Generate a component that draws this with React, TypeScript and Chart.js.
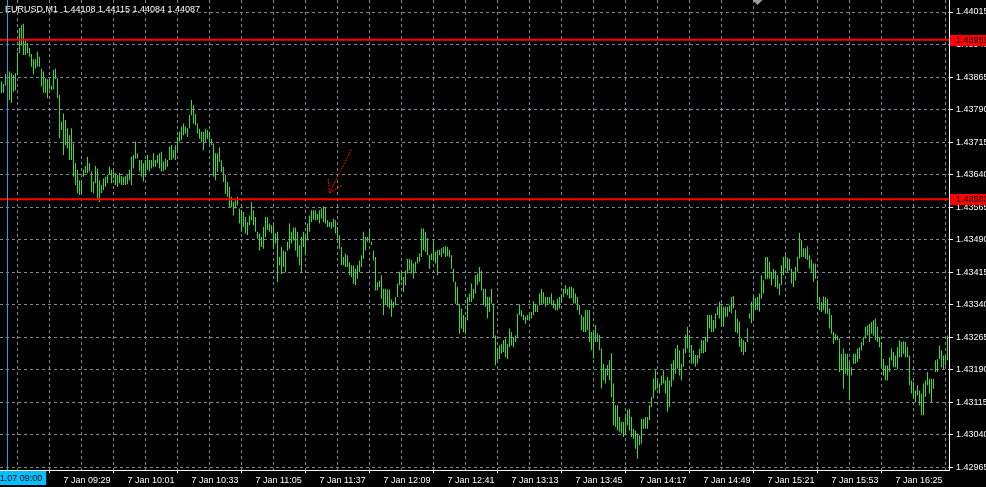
import React, { useEffect, useRef } from 'react';
import { Chart, registerables } from 'chart.js';

Chart.register(...registerables);

// ---- data ----
const symbolTitle = 'EURUSD,M1  1.44108 1.44115 1.44084 1.44087';

const barHighs = [
  1.43855,1.43849,1.43872,1.43870,1.43878,1.43875,1.43870,1.43874,1.43922,1.43978,
  1.43985,1.43988,1.43949,1.43943,1.43932,1.43918,1.43906,1.43906,1.43924,1.43912,
  1.43885,1.43878,1.43862,1.43860,1.43862,1.43845,1.43881,1.43885,1.43862,1.43824,
  1.43762,1.43781,1.43766,1.43747,1.43731,1.43747,1.43712,1.43666,1.43651,1.43627,
  1.43627,1.43651,1.43660,1.43681,1.43666,1.43647,1.43624,1.43660,1.43654,1.43627,
  1.43616,1.43631,1.43635,1.43639,1.43658,1.43651,1.43647,1.43643,1.43639,1.43644,
  1.43637,1.43635,1.43637,1.43639,1.43652,1.43681,1.43685,1.43716,1.43689,1.43674,
  1.43674,1.43666,1.43674,1.43685,1.43674,1.43674,1.43689,1.43674,1.43685,1.43689,
  1.43693,1.43670,1.43677,1.43674,1.43704,1.43708,1.43697,1.43708,1.43727,1.43739,
  1.43751,1.43758,1.43751,1.43747,1.43778,
  1.43812,1.43800,1.43780,1.43758,1.43746,1.43739,1.43739,1.43746,1.43743,1.43739,
  1.43723,1.43712,1.43689,1.43689,1.43703,1.43673,1.43658,1.43639,1.43623,1.43612,
  1.43589,1.43577,1.43581,1.43589,1.43562,1.43558,1.43554,1.43542,1.43531,1.43546,
  1.43577,1.43558,1.43542,1.43508,1.43504,1.43496,1.43519,1.43542,1.43542,1.43527,
  1.43523,1.43523,1.43504,1.43508,1.43450,1.43473,1.43465,1.43462,1.43485,1.43527,
  1.43508,1.43518,1.43518,1.43508,1.43477,1.43496,1.43508,1.43504,1.43527,1.43546,
  1.43558,1.43558,1.43558,1.43550,1.43558,1.43562,1.43567,1.43565,1.43535,1.43531,
  1.43531,1.43539,1.43535,1.43519,1.43500,1.43473,1.43450,1.43458,1.43454,1.43438,
  1.43431,1.43431,1.43423,1.43431,1.43442,1.43454,1.43508,1.43496,1.43496,1.43512,
  1.43485,1.43465,1.43450,1.43392,1.43396,
  1.43408,1.43377,1.43377,1.43375,1.43375,1.43352,1.43346,1.43358,1.43389,1.43416,
  1.43416,1.43404,1.43419,1.43446,1.43446,1.43443,1.43435,1.43439,1.43450,1.43458,
  1.43516,1.43516,1.43508,1.43493,1.43454,1.43458,1.43485,1.43462,1.43466,1.43467,
  1.43470,1.43473,1.43475,1.43473,1.43466,1.43454,1.43423,1.43393,1.43381,1.43342,
  1.43331,1.43316,1.43312,1.43358,1.43366,1.43389,1.43377,1.43408,1.43412,1.43427,
  1.43419,1.43377,1.43377,1.43358,1.43358,1.43377,1.43342,1.43269,1.43239,1.43246,
  1.43250,1.43258,1.43262,1.43250,1.43285,1.43277,1.43265,1.43269,1.43319,1.43341,
  1.43327,1.43316,1.43313,1.43316,1.43319,1.43323,1.43348,1.43342,1.43339,1.43366,
  1.43377,1.43369,1.43358,1.43358,1.43358,1.43366,1.43350,1.43342,1.43354,1.43358,
  1.43362,1.43377,1.43385,1.43377,1.43381,
  1.43382,1.43378,1.43366,1.43358,1.43339,1.43316,1.43312,1.43328,1.43328,1.43328,
  1.43277,1.43277,1.43293,1.43274,1.43270,1.43239,1.43204,1.43193,1.43201,1.43212,
  1.43228,1.43158,1.43108,1.43108,1.43081,1.43070,1.43070,1.43081,1.43097,1.43100,
  1.43081,1.43054,1.43050,1.43043,1.43039,1.43077,1.43077,1.43081,1.43081,1.43108,
  1.43127,1.43170,1.43189,1.43166,1.43158,1.43177,1.43189,1.43166,1.43174,1.43166,
  1.43204,1.43212,1.43239,1.43247,1.43235,1.43204,1.43239,1.43270,1.43289,1.43270,
  1.43247,1.43235,1.43224,1.43224,1.43239,1.43258,1.43258,1.43266,1.43316,1.43316,
  1.43316,1.43305,1.43320,1.43335,1.43347,1.43343,1.43335,1.43335,1.43335,1.43339,
  1.43358,1.43360,1.43328,1.43308,1.43301,1.43262,1.43258,1.43254,1.43285,1.43320,
  1.43347,1.43358,1.43355,1.43358,1.43366,
  1.43408,1.43396,1.43450,1.43450,1.43439,1.43416,1.43423,1.43419,1.43408,1.43389,
  1.43431,1.43450,1.43454,1.43449,1.43446,1.43423,1.43416,1.43427,1.43450,1.43506,
  1.43489,1.43470,1.43470,1.43475,1.43454,1.43444,1.43435,1.43435,1.43396,1.43358,
  1.43346,1.43359,1.43358,1.43354,1.43331,1.43316,1.43277,1.43273,1.43269,1.43262,
  1.43227,1.43239,1.43227,1.43227,1.43208,1.43196,1.43227,1.43227,1.43239,1.43242,
  1.43254,1.43265,1.43289,1.43292,1.43296,1.43300,1.43304,1.43308,1.43289,1.43265,
  1.43254,1.43215,1.43200,1.43200,1.43219,1.43239,1.43231,1.43223,1.43242,1.43258,
  1.43254,1.43256,1.43254,1.43242,1.43223,1.43165,1.43162,1.43142,1.43154,1.43142,
  1.43135,1.43158,1.43165,1.43185,1.43169,1.43169,1.43169,1.43212,1.43215,1.43246,
  1.43235,1.43223,1.43223,1.43269,
];

const barLows = [
  1.43828,1.43829,1.43845,1.43847,1.43812,1.43806,1.43831,1.43834,1.43870,1.43920,
  1.43937,1.43916,1.43916,1.43920,1.43912,1.43889,1.43871,1.43885,1.43889,1.43889,
  1.43843,1.43829,1.43829,1.43816,1.43837,1.43835,1.43837,1.43860,1.43816,1.43724,
  1.43743,1.43685,1.43708,1.43701,1.43674,1.43674,1.43635,1.43616,1.43597,1.43593,
  1.43597,1.43635,1.43644,1.43643,1.43647,1.43600,1.43597,1.43620,1.43581,1.43577,
  1.43597,1.43604,1.43612,1.43620,1.43639,1.43620,1.43631,1.43616,1.43612,1.43620,
  1.43616,1.43616,1.43616,1.43618,1.43627,1.43616,1.43654,1.43677,1.43677,1.43647,
  1.43635,1.43624,1.43635,1.43651,1.43647,1.43654,1.43658,1.43658,1.43666,1.43654,
  1.43647,1.43647,1.43651,1.43658,1.43674,1.43674,1.43677,1.43674,1.43697,1.43716,
  1.43720,1.43731,1.43735,1.43727,1.43747,
  1.43777,1.43758,1.43754,1.43735,1.43723,1.43716,1.43696,1.43716,1.43723,1.43712,
  1.43708,1.43635,1.43627,1.43646,1.43669,1.43646,1.43623,1.43596,1.43589,1.43565,
  1.43565,1.43546,1.43562,1.43569,1.43527,1.43508,1.43519,1.43504,1.43500,1.43523,
  1.43535,1.43523,1.43508,1.43492,1.43465,1.43473,1.43469,1.43496,1.43512,1.43508,
  1.43504,1.43469,1.43481,1.43392,1.43431,1.43411,1.43427,1.43415,1.43465,1.43469,
  1.43481,1.43488,1.43465,1.43450,1.43431,1.43415,1.43473,1.43454,1.43488,1.43508,
  1.43531,1.43536,1.43535,1.43535,1.43527,1.43539,1.43531,1.43527,1.43519,1.43519,
  1.43515,1.43519,1.43504,1.43492,1.43469,1.43431,1.43431,1.43427,1.43427,1.43408,
  1.43404,1.43388,1.43385,1.43400,1.43415,1.43427,1.43446,1.43465,1.43485,1.43488,
  1.43477,1.43442,1.43373,1.43373,1.43381,
  1.43354,1.43316,1.43342,1.43335,1.43331,1.43312,1.43333,1.43339,1.43358,1.43385,
  1.43396,1.43369,1.43385,1.43412,1.43419,1.43412,1.43400,1.43416,1.43435,1.43439,
  1.43450,1.43466,1.43462,1.43454,1.43423,1.43443,1.43443,1.43435,1.43408,1.43454,
  1.43450,1.43458,1.43450,1.43452,1.43450,1.43423,1.43393,1.43342,1.43339,1.43273,
  1.43285,1.43277,1.43273,1.43304,1.43346,1.43346,1.43354,1.43366,1.43385,1.43393,
  1.43373,1.43339,1.43335,1.43308,1.43323,1.43342,1.43265,1.43200,1.43212,1.43215,
  1.43227,1.43231,1.43219,1.43215,1.43242,1.43246,1.43242,1.43254,1.43265,1.43316,
  1.43312,1.43304,1.43296,1.43304,1.43304,1.43308,1.43316,1.43323,1.43323,1.43339,
  1.43342,1.43342,1.43335,1.43342,1.43342,1.43339,1.43331,1.43327,1.43327,1.43331,
  1.43346,1.43358,1.43366,1.43362,1.43354,
  1.43355,1.43343,1.43343,1.43328,1.43316,1.43281,1.43277,1.43277,1.43281,1.43254,
  1.43235,1.43216,1.43254,1.43254,1.43235,1.43147,1.43166,1.43158,1.43177,1.43166,
  1.43127,1.43062,1.43058,1.43050,1.43047,1.43043,1.43035,1.43039,1.43062,1.43050,
  1.43035,1.43031,1.43008,1.42985,1.43016,1.43020,1.43054,1.43054,1.43054,1.43074,
  1.43104,1.43124,1.43143,1.43147,1.43135,1.43154,1.43158,1.43135,1.43093,1.43104,
  1.43151,1.43166,1.43181,1.43193,1.43177,1.43166,1.43197,1.43228,1.43239,1.43228,
  1.43204,1.43204,1.43197,1.43204,1.43216,1.43228,1.43228,1.43231,1.43254,1.43285,
  1.43277,1.43277,1.43285,1.43316,1.43308,1.43289,1.43289,1.43312,1.43312,1.43324,
  1.43320,1.43331,1.43277,1.43274,1.43243,1.43231,1.43224,1.43231,1.43254,1.43308,
  1.43297,1.43308,1.43328,1.43328,1.43324,
  1.43354,1.43366,1.43400,1.43400,1.43400,1.43385,1.43400,1.43381,1.43377,1.43362,
  1.43385,1.43408,1.43423,1.43416,1.43419,1.43389,1.43381,1.43396,1.43416,1.43446,
  1.43450,1.43450,1.43446,1.43443,1.43423,1.43416,1.43393,1.43400,1.43346,1.43327,
  1.43323,1.43327,1.43319,1.43319,1.43285,1.43273,1.43250,1.43258,1.43258,1.43185,
  1.43189,1.43146,1.43181,1.43177,1.43119,1.43177,1.43204,1.43204,1.43208,1.43215,
  1.43235,1.43246,1.43262,1.43269,1.43254,1.43273,1.43269,1.43258,1.43254,1.43242,
  1.43196,1.43177,1.43165,1.43165,1.43185,1.43212,1.43196,1.43196,1.43192,1.43219,
  1.43219,1.43227,1.43219,1.43219,1.43154,1.43135,1.43123,1.43115,1.43131,1.43108,
  1.43085,1.43085,1.43127,1.43154,1.43135,1.43115,1.43146,1.43185,1.43185,1.43215,
  1.43196,1.43192,1.43200,1.43212,
];

const priceTicks = [
  1.42965, 1.43040, 1.43115, 1.43190, 1.43265, 1.43340, 1.43415, 1.43490,
  1.43565, 1.43640, 1.43715, 1.43790, 1.43865, 1.43940, 1.44015,
];

const timeLabels = [
  '7 Jan 09:29', '7 Jan 10:01', '7 Jan 10:33', '7 Jan 11:05', '7 Jan 11:37',
  '7 Jan 12:09', '7 Jan 12:41', '7 Jan 13:13', '7 Jan 13:45', '7 Jan 14:17',
  '7 Jan 14:49', '7 Jan 15:21', '7 Jan 15:53', '7 Jan 16:25',
];
const barsPerLabel = 32;
const barsPerGrid = 16;

const levelLines = [1.43951, 1.43583];
const cursorBar = 3;
const cursorLabel = '2011.01.07 09:00';
const arrowFrom = { bar: 175, price: 1.43699 };
const arrowTo = { bar: 164, price: 1.43598 };
const shiftMarkerBar = 378;

const priceMin = 1.429588;
const priceMax = 1.440427;
const barMin = -0.75;
const barMax = 473.75;

// ---- style ----
const FONT = '"Liberation Sans", Arial, sans-serif';
const BAR_COLOR = '#33dd33';
const GRID_COLOR = '#7d8796';

export default function App() {
  const ref = useRef<HTMLCanvasElement | null>(null);

  useEffect(() => {
    const canvas = ref.current;
    if (!canvas) return;

    const bars = barHighs.map((h, i) => ({ x: i, y: [barLows[i], h] }));
    const gridBars: number[] = [];
    for (let v = 0; v <= barMax; v += barsPerGrid) gridBars.push(v);

    const decor = {
      id: 'mtDecor',
      afterDraw(chart: any) {
        const { ctx, chartArea } = chart;
        const xs = chart.scales.x;
        const ys = chart.scales.y;
        ctx.save();
        ctx.font = `9px ${FONT}`;

        // title
        ctx.fillStyle = '#ffffff';
        ctx.textAlign = 'left';
        ctx.textBaseline = 'alphabetic';
        ctx.fillText(symbolTitle, 5, 12);

        // cursor line
        const cx = Math.floor(xs.getPixelForValue(cursorBar)) + 0.5;
        ctx.strokeStyle = '#28a0dc';
        ctx.lineWidth = 1;
        ctx.beginPath();
        ctx.moveTo(cx, chartArea.top);
        ctx.lineTo(cx, chartArea.bottom);
        ctx.stroke();

        // cursor time label
        const tw = ctx.measureText(cursorLabel).width;
        ctx.fillStyle = '#00bfff';
        ctx.fillRect(cx - tw / 2 - 4, chartArea.bottom + 1, tw + 8, 14);
        ctx.fillStyle = '#000000';
        ctx.textAlign = 'center';
        ctx.textBaseline = 'middle';
        ctx.fillText(cursorLabel, cx, chartArea.bottom + 8.5);

        // level price tags
        ctx.textAlign = 'left';
        for (const p of levelLines) {
          const py = ys.getPixelForValue(p);
          ctx.fillStyle = '#ff0000';
          ctx.fillRect(chartArea.right + 1, Math.round(py) - 5, 40, 11);
          ctx.fillStyle = '#000000';
          ctx.fillText(p.toFixed(5), chartArea.right + 7, Math.round(py) + 0.5);
        }

        // arrow
        const ax0 = xs.getPixelForValue(arrowFrom.bar);
        const ay0 = ys.getPixelForValue(arrowFrom.price);
        const ax1 = xs.getPixelForValue(arrowTo.bar);
        const ay1 = ys.getPixelForValue(arrowTo.price);
        ctx.strokeStyle = '#ff0000';
        ctx.lineWidth = 1;
        ctx.setLineDash([2, 1]);
        ctx.beginPath();
        ctx.moveTo(ax0, ay0);
        ctx.lineTo(ax1, ay1);
        const ang = Math.atan2(ay0 - ay1, ax0 - ax1);
        for (const s of [-1, 1]) {
          const a = ang + s * 0.56;
          ctx.moveTo(ax1, ay1);
          ctx.lineTo(ax1 + 14 * Math.cos(a), ay1 + 14 * Math.sin(a));
        }
        ctx.stroke();
        ctx.setLineDash([]);

        // chart shift marker
        const sx = xs.getPixelForValue(shiftMarkerBar);
        ctx.fillStyle = '#9a9a9a';
        ctx.beginPath();
        ctx.moveTo(sx - 5, chartArea.top);
        ctx.lineTo(sx + 5, chartArea.top);
        ctx.lineTo(sx, chartArea.top + 5);
        ctx.closePath();
        ctx.fill();

        ctx.restore();
      },
    };

    const chart = new Chart(canvas, {
      type: 'bar',
      data: {
        datasets: [
          {
            type: 'bar',
            data: bars as any,
            backgroundColor: BAR_COLOR,
            borderWidth: 0,
            barThickness: 1,
            inflateAmount: 0,
            grouped: false,
            order: 2,
          } as any,
          ...levelLines.map((p) => ({
            type: 'line',
            data: [
              { x: barMin, y: p },
              { x: barMax, y: p },
            ],
            borderColor: '#ff0000',
            borderWidth: 2,
            pointRadius: 0,
            order: 0,
          })) as any,
        ],
      },
      options: {
        animation: false,
        responsive: false,
        devicePixelRatio: 1,
        events: [],
        layout: { padding: 0 },
        plugins: {
          legend: { display: false },
          tooltip: { enabled: false },
          title: { display: false },
        },
        scales: {
          x: {
            type: 'linear',
            min: barMin,
            max: barMax,
            bounds: 'data',
            offset: false,
            afterBuildTicks: (s: any) => {
              s.ticks = gridBars.map((v) => ({ value: v }));
            },
            afterFit: (s: any) => {
              s.height = 17;
              s.paddingLeft = 0;
              s.paddingRight = 0;
              s.paddingTop = 0;
              s.paddingBottom = 0;
            },
            grid: {
              color: GRID_COLOR,
              lineWidth: 1,
              drawTicks: true,
              tickLength: 3,
              tickColor: (c: any) =>
                c.tick && c.tick.value > 0 && c.tick.value % barsPerLabel === 0
                  ? '#ffffff'
                  : 'rgba(0,0,0,0)',
            },
            border: { display: true, color: '#ffffff', width: 1, dash: [3, 3] },
            ticks: {
              autoSkip: false,
              maxRotation: 0,
              minRotation: 0,
              align: 'start',
              labelOffset: -2,
              padding: 2,
              color: '#ffffff',
              font: { family: FONT, size: 9 },
              callback: (value: any) => {
                const v = Number(value);
                if (v > 0 && v % barsPerLabel === 0) return timeLabels[v / barsPerLabel - 1] ?? '';
                return '';
              },
            },
          } as any,
          y: {
            type: 'linear',
            position: 'right',
            min: priceMin,
            max: priceMax,
            bounds: 'data',
            afterBuildTicks: (s: any) => {
              s.ticks = priceTicks.map((v) => ({ value: v }));
            },
            afterFit: (s: any) => {
              s.width = 37;
              s.paddingLeft = 0;
              s.paddingRight = 0;
              s.paddingTop = 0;
              s.paddingBottom = 0;
            },
            grid: {
              color: GRID_COLOR,
              lineWidth: 1,
              drawTicks: true,
              tickLength: 4,
              tickColor: '#ffffff',
            },
            border: { display: true, color: '#ffffff', width: 1, dash: [3, 3] },
            ticks: {
              padding: 3,
              color: '#ffffff',
              font: { family: FONT, size: 9 },
              callback: (value: any) => Number(value).toFixed(5),
            },
          } as any,
        },
      },
      plugins: [decor],
    });

    return () => chart.destroy();
  }, []);

  return (
    <div
      style={{
        position: 'fixed',
        left: 0,
        top: 0,
        width: 986,
        height: 487,
        background: '#000000',
      }}
    >
      <canvas ref={ref} width={986} height={487} style={{ display: 'block' }} />
    </div>
  );
}
